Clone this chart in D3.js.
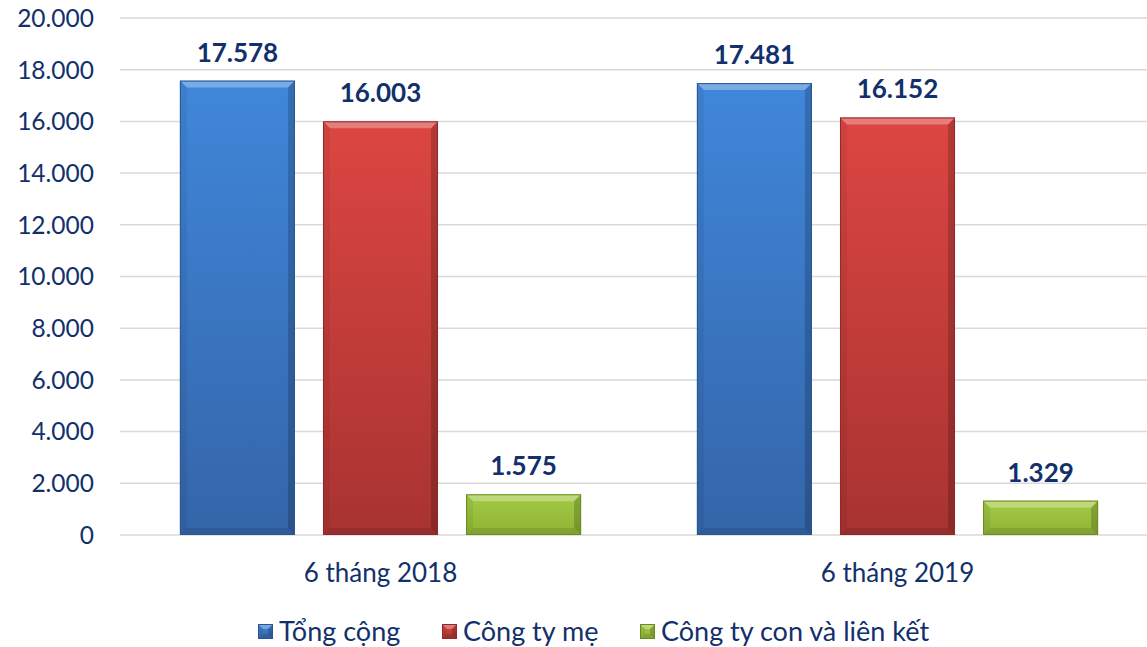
<!DOCTYPE html>
<html>
<head>
<meta charset="utf-8">
<script src="https://cdn.jsdelivr.net/npm/d3@7"></script>
<style>
  body { margin: 0; background: #fff; }
  svg text { font-family: Lato, "Open Sans", sans-serif; }
</style>
</head>
<body>
<div id="chart"></div>
<script>
const periods = ["6 tháng 2018", "6 tháng 2019"];
const seriesNames = ["Tổng cộng", "Công ty mẹ", "Công ty con và liên kết"];
const tongCong = [17578, 17481];
const congTyMe = [16003, 16152];
const congTyCon = [1575, 1329];
const yTicks = [0, 2000, 4000, 6000, 8000, 10000, 12000, 14000, 16000, 18000, 20000];

const seriesValues = [tongCong, congTyMe, congTyCon];
const palette = [
  {top: '#4087da', bottom: '#3465a9', edge: '#2a5591'},
  {top: '#dc4642', bottom: '#a83331', edge: '#8e2a28'},
  {top: '#a3cb44', bottom: '#8fb336', edge: '#6c8a22'}
];
const textColor = '#12306b';

const width = 1147, height = 647;
const svg = d3.select('#chart').append('svg')
  .attr('width', width).attr('height', height);

const defs = svg.append('defs');
palette.forEach((c, i) => {
  const g = defs.append('linearGradient').attr('id', 'grad' + i)
    .attr('x1', 0).attr('y1', 0).attr('x2', 0).attr('y2', 1);
  g.append('stop').attr('offset', '0%').attr('stop-color', c.top);
  g.append('stop').attr('offset', '100%').attr('stop-color', c.bottom);
});

const fmt = v => d3.format(',')(v).replace(/,/g, '.');

const y = d3.scaleLinear().domain([0, 20000]).range([535, 18]);
const x0 = d3.scaleBand().domain(periods).range([122, 1156]).paddingInner(0.224).paddingOuter(0.112);
const x1 = d3.scaleBand().domain(d3.range(3)).range([0, x0.bandwidth()]).paddingInner(0.196).paddingOuter(0);

// grid
svg.append('g').selectAll('line').data(yTicks).enter().append('line')
  .attr('x1', 120).attr('x2', width)
  .attr('y1', d => y(d)).attr('y2', d => y(d))
  .attr('stroke', '#d9d9d9').attr('stroke-width', 1.5);

svg.append('g').selectAll('text').data(yTicks).enter().append('text')
  .attr('x', 94).attr('y', d => y(d))
  .attr('dy', '0.36em')
  .attr('text-anchor', 'end')
  .attr('font-size', 24.5)
  .attr('fill', textColor)
  .text(d => fmt(d));

// bevelled bar
function bevelBar(g, bx, by, bw, bh, s) {
  const c = palette[s];
  const b = Math.min(7, bh / 3, bw / 3);
  g.append('rect').attr('x', bx).attr('y', by).attr('width', bw).attr('height', bh).attr('fill', `url(#grad${s})`);
  const faces = [
    {pts: [[bx, by], [bx + bw, by], [bx + bw - b, by + b], [bx + b, by + b]], fill: '#fff', op: 0.3},
    {pts: [[bx, by], [bx + b, by + b], [bx + b, by + bh - b], [bx, by + bh]], fill: '#000', op: 0.06},
    {pts: [[bx + bw, by], [bx + bw, by + bh], [bx + bw - b, by + bh - b], [bx + bw - b, by + b]], fill: '#000', op: 0.18},
    {pts: [[bx, by + bh], [bx + b, by + bh - b], [bx + bw - b, by + bh - b], [bx + bw, by + bh]], fill: '#000', op: 0.1}
  ];
  faces.forEach(f => g.append('polygon')
    .attr('points', f.pts.map(p => p.join(',')).join(' '))
    .attr('fill', f.fill).attr('opacity', f.op));
  g.append('rect').attr('x', bx + 0.5).attr('y', by + 0.5).attr('width', bw - 1).attr('height', bh - 1)
    .attr('fill', 'none').attr('stroke', c.edge).attr('stroke-width', 1);
}

const bars = svg.append('g');
periods.forEach((p, i) => {
  seriesValues.forEach((vals, s) => {
    const bx = x0(p) + x1(s);
    const by = y(vals[i]);
    bevelBar(bars, bx, by, x1.bandwidth(), y(0) - by, s);
    bars.append('text')
      .attr('x', bx + x1.bandwidth() / 2)
      .attr('y', by - 19)
      .attr('text-anchor', 'middle')
      .attr('font-size', 26).attr('font-weight', 'bold')
      .attr('fill', textColor)
      .text(fmt(vals[i]));
  });
});

// x axis labels
svg.append('g').selectAll('text').data(periods).enter().append('text')
  .attr('x', d => x0(d) + x0.bandwidth() / 2)
  .attr('y', 582)
  .attr('text-anchor', 'middle')
  .attr('font-size', 26)
  .attr('fill', textColor)
  .text(d => d);

// legend
const legendX = [258, 442, 640];
const legend = svg.append('g');
seriesNames.forEach((name, s) => {
  bevelBar(legend, legendX[s], 624, 15, 15, s);
  legend.append('text')
    .attr('x', legendX[s] + 21).attr('y', 641)
    .attr('font-size', 27)
    .attr('fill', textColor)
    .text(name);
});
</script>
</body>
</html>
